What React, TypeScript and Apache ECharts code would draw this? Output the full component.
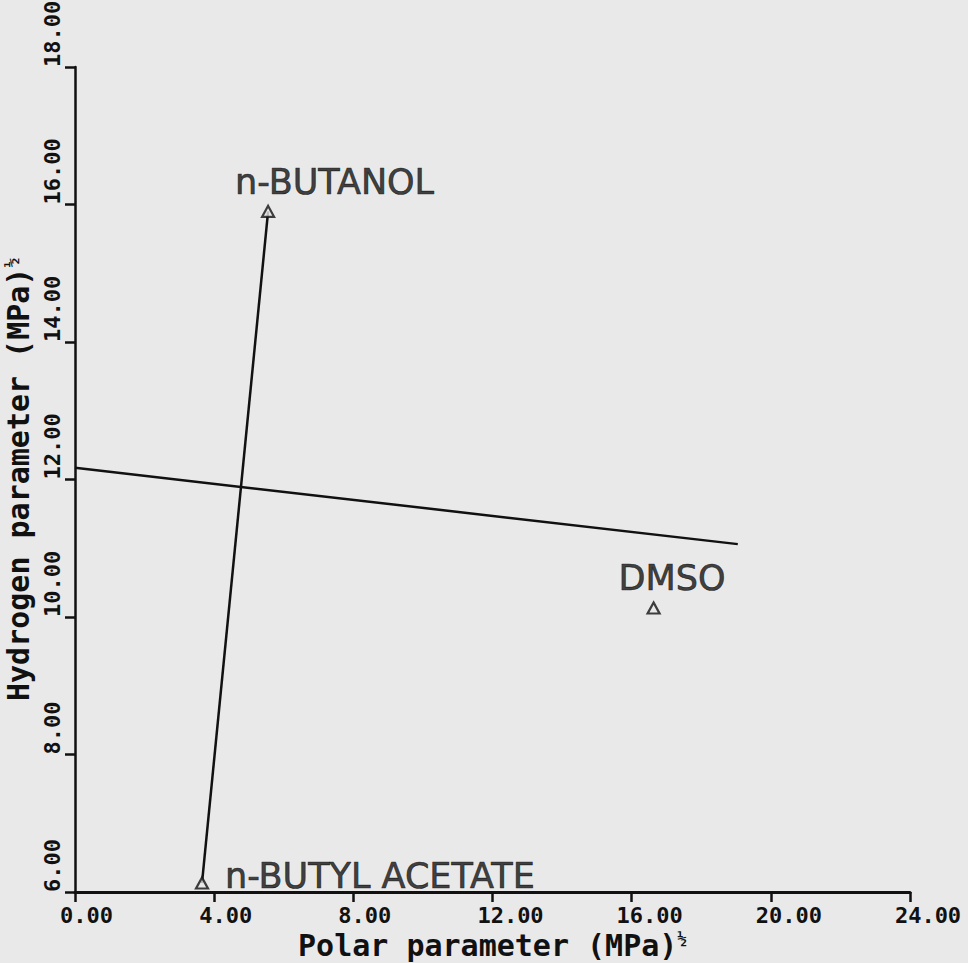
import React, { useEffect, useRef } from "react";
import * as echarts from "echarts";

const xTicks = [0, 4, 8, 12, 16, 20, 24];
const yTicks = [6, 8, 10, 12, 14, 16, 18];
const solventNames = ["n-BUTANOL", "DMSO", "n-BUTYL ACETATE"];
const solventPolar = [5.55, 16.63, 3.65];
const solventHydrogen = [15.9, 10.13, 6.13];
const lineA = [
  [3.65, 6.13],
  [5.55, 15.9],
];
const lineB = [
  [0, 12.17],
  [19.05, 11.06],
];

const BG = "#e9e9e9";
const INK = "#111111";
const MONO = "'DejaVu Sans Mono', monospace";
const SANS = "'DejaVu Sans', sans-serif";

export default function App() {
  const ref = useRef<HTMLDivElement>(null);
  useEffect(() => {
    if (!ref.current) return;
    const chart = echarts.init(ref.current, null, { renderer: "svg" });
    const labelOffsets: Record<string, number[]> = {
      "n-BUTANOL": [-33, -29],
      DMSO: [-35, -30],
      "n-BUTYL ACETATE": [23, -7],
    };
    const points = solventNames.map((n, i) => ({
      name: n,
      value: [solventPolar[i], solventHydrogen[i]],
      label: {
        show: true,
        formatter: n,
        color: INK,
        fontFamily: SANS,
        fontSize: 35,
        textBorderColor: INK,
        textBorderWidth: 0.7,
        position: "inside",
        align: "left",
        verticalAlign: "middle",
        offset: labelOffsets[n],
      },
    }));
    const tickFont = {
      color: INK,
      fontFamily: MONO,
      fontWeight: "bold" as const,
      fontSize: 22,
    };
    const titleFont = {
      color: INK,
      fontFamily: MONO,
      fontWeight: "bold" as const,
      fontSize: 30,
    };
    chart.setOption({
      animation: false,
      backgroundColor: BG,
      grid: {
        left: 75,
        right: 58,
        top: 67,
        bottom: 71,
        containLabel: false,
        outerBoundsMode: "none",
      },
      xAxis: {
        type: "value",
        min: 0,
        max: 24,
        interval: 4,
        splitLine: { show: false },
        axisLine: { lineStyle: { color: INK, width: 3 } },
        axisTick: { show: true, length: 10, lineStyle: { color: INK, width: 2.5 } },
        axisLabel: {
          ...tickFont,
          margin: 12,
          formatter: (v: number) => {
            const s = v.toFixed(2);
            return `{${s.length === 4 ? "a" : "b"}|${s}}`;
          },
          rich: {
            a: { ...tickFont, padding: [0, 0, 0, 23] },
            b: { ...tickFont, padding: [0, 0, 0, 36] },
          },
        },
        name: "Polar parameter (MPa){s|½}",
        nameLocation: "middle",
        nameGap: 38,
        nameTextStyle: {
          ...titleFont,
          rich: {
            s: { ...titleFont, fontSize: 16, padding: [0, 0, 14, 0] },
          },
        },
      },
      yAxis: {
        type: "value",
        min: 6,
        max: 18,
        interval: 2,
        splitLine: { show: false },
        axisLine: { lineStyle: { color: INK, width: 2.5 } },
        axisTick: { show: true, length: 10, lineStyle: { color: INK, width: 2.5 } },
        axisLabel: {
          ...tickFont,
          rotate: 90,
          align: "left",
          margin: 12,
          formatter: (v: number) => v.toFixed(2),
        },
        name: "Hydrogen parameter (MPa){s|½}",
        nameLocation: "middle",
        nameGap: 30,
        nameTextStyle: {
          ...titleFont,
          rich: {
            s: { ...titleFont, fontSize: 16, padding: [0, 0, 14, 0] },
          },
        },
      },
      series: [
        {
          type: "line",
          data: lineA,
          symbol: "none",
          lineStyle: { color: INK, width: 2.5 },
          z: 2,
        },
        {
          type: "line",
          data: lineB,
          symbol: "none",
          lineStyle: { color: INK, width: 2.5 },
          z: 2,
        },
        {
          type: "scatter",
          data: points,
          symbol: "triangle",
          symbolSize: [12, 11],
          itemStyle: { color: BG, borderColor: INK, borderWidth: 2.2 },
          z: 5,
        },
      ],
    });
    return () => chart.dispose();
  }, []);
  return (
    <div
      ref={ref}
      style={{ position: "fixed", left: 0, top: 0, width: 968, height: 963 }}
    />
  );
}
